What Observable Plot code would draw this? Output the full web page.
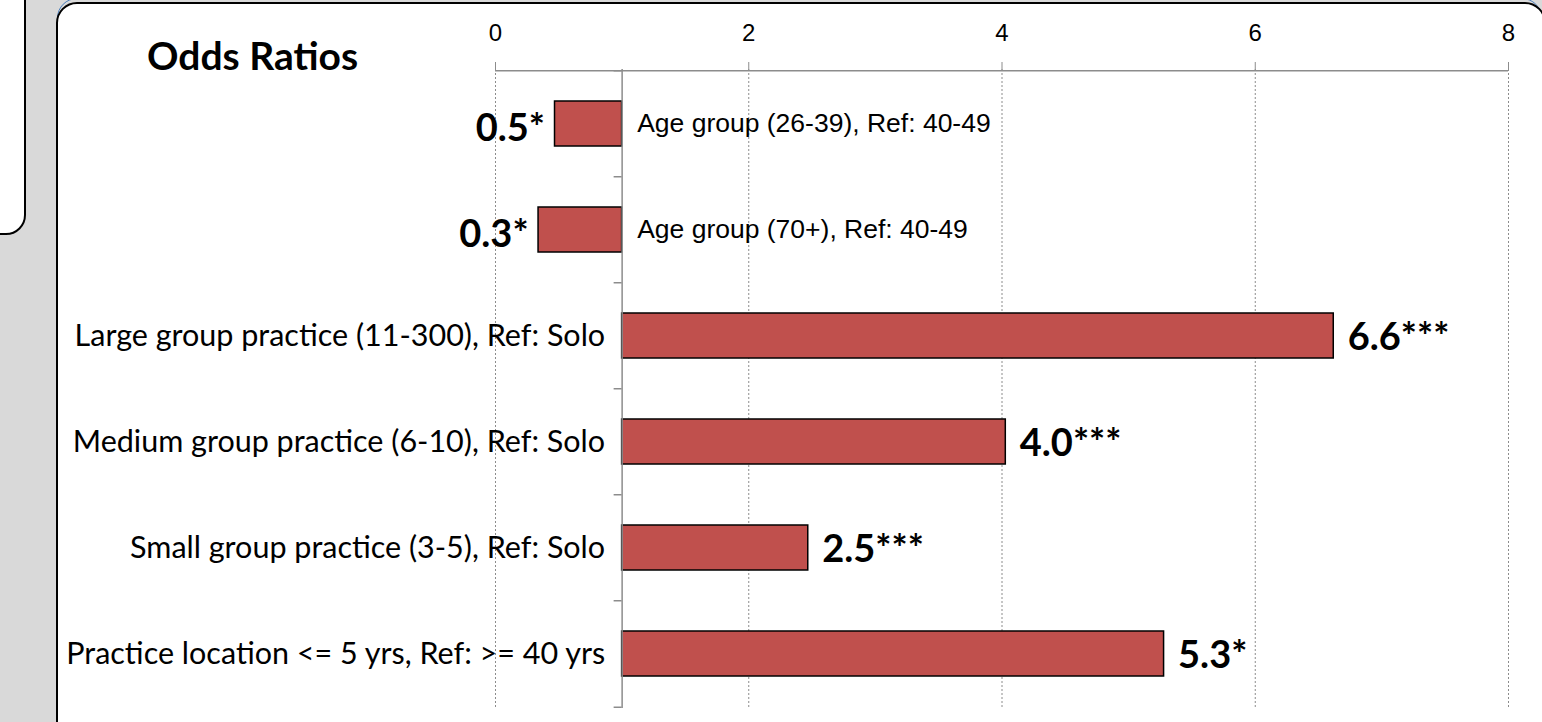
<!DOCTYPE html>
<html>
<head>
<meta charset="utf-8">
<script src="https://cdn.jsdelivr.net/npm/d3@7"></script>
<script src="https://cdn.jsdelivr.net/npm/@observablehq/plot@0.6"></script>
<style>
  html, body { margin: 0; padding: 0; }
  body { width: 1542px; height: 722px; overflow: hidden; background: #d9d9d9; position: relative; }
  .abs { position: absolute; box-sizing: border-box; }
  #blue { left: 57px; top: -2px; width: 1485px; height: 770px; border: 1.5px solid #4a7ebb; border-radius: 20px; }
  #leftbox { left: -30px; top: -30px; width: 56px; height: 265px; background: #fff; border: 2px solid #000; border-radius: 20px; }
  #frame { left: 56px; top: 2px; width: 1490px; height: 740px; background: #fff; border: 2.5px solid #000; border-radius: 21px; }
  #title { left: 147px; top: 32px; height: 42px; line-height: 42px; font: bold 39px Lato, sans-serif; color: #000; white-space: nowrap; }
  #chart { left: 0; top: 0; }
</style>
</head>
<body>
<div id="blue" class="abs"></div>
<div id="leftbox" class="abs"></div>
<div id="frame" class="abs"></div>
<div id="title" class="abs">Odds Ratios</div>
<div id="chart" class="abs"></div>
<script>
const categories = [
  "Age group (26-39), Ref: 40-49",
  "Age group (70+), Ref: 40-49",
  "Large group practice (11-300), Ref: Solo",
  "Medium group practice (6-10), Ref: Solo",
  "Small group practice (3-5), Ref: Solo",
  "Practice location <= 5 yrs, Ref: >= 40 yrs"
];
const oddsRatios = [0.47, 0.34, 6.62, 4.03, 2.47, 5.28];
const valueLabels = ["0.5*", "0.3*", "6.6***", "4.0***", "2.5***", "5.3*"];
const xTicks = [0, 2, 4, 6, 8];
const baseline = 1;

const data = categories.map((c, i) => ({category: c, value: oddsRatios[i], label: valueLabels[i]}));
const above = data.filter(d => d.value >= baseline);
const below = data.filter(d => d.value < baseline);

const W = 1542, H = 722;
const mTop = 69, mBottom = 14, mLeft = 495, mRight = 34;
const step = (H - mTop - mBottom) / categories.length;
const axisGray = "#8c8c8c";

const chart = Plot.plot({
  width: W,
  height: H,
  marginTop: mTop,
  marginBottom: mBottom,
  marginLeft: mLeft,
  marginRight: mRight,
  style: {background: "transparent", color: "#000", overflow: "visible"},
  x: {domain: [xTicks[0], xTicks[xTicks.length - 1]], axis: null, label: null},
  y: {type: "band", domain: categories, paddingInner: 0.58, paddingOuter: 0.29, axis: null},
  marks: [
    Plot.ruleX(xTicks, {stroke: axisGray, strokeDasharray: "2,2", strokeWidth: 1}),
    Plot.ruleY([categories[0]], {x1: xTicks[0], x2: xTicks[xTicks.length - 1], dy: -step / 2, stroke: axisGray, strokeWidth: 1.5}),
    Plot.axisX(xTicks, {anchor: "top", label: null, tickFormat: d3.format("d"), tickSize: 8, tickPadding: 21, fontSize: 24, fontFamily: "Liberation Sans", stroke: axisGray, fill: "#000"}),
    Plot.barX(data, {y: "category", x1: baseline, x2: "value", fill: "#c0504d", stroke: "#000", strokeWidth: 1.5}),
    Plot.ruleX([baseline], {stroke: axisGray, strokeWidth: 1.5}),
    Plot.ruleY(categories, {x1: baseline, x2: baseline, insetLeft: -8, dy: -step / 2, stroke: axisGray, strokeWidth: 1.5}),
    Plot.ruleY([categories[categories.length - 1]], {x1: baseline, x2: baseline, insetLeft: -8, dy: step / 2, stroke: axisGray, strokeWidth: 1.5}),
    Plot.text(above, {y: "category", x: baseline, text: "category", textAnchor: "end", dx: -17, fontSize: 30.5, fontFamily: "Lato"}),
    Plot.text(below, {y: "category", x: baseline, text: "category", textAnchor: "start", dx: 15, fontSize: 26.5, fontFamily: "Liberation Sans"}),
    Plot.text(above, {y: "category", x: "value", text: "label", textAnchor: "start", dx: 14, dy: 2, fontSize: 38, fontWeight: "bold", fontFamily: "Lato"}),
    Plot.text(below, {y: "category", x: "value", text: "label", textAnchor: "end", dx: -10, dy: 5, fontSize: 38, fontWeight: "bold", fontFamily: "Lato"})
  ]
});
document.getElementById("chart").appendChild(chart);
</script>
</body>
</html>
